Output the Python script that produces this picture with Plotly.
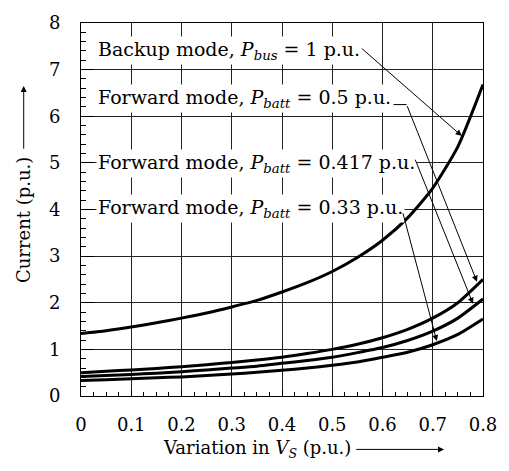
import plotly.graph_objects as go

# Supply-voltage variation (p.u.)
variation = [0.00, 0.05, 0.10, 0.15, 0.20, 0.25, 0.30, 0.35, 0.40,
             0.45, 0.50, 0.55, 0.60, 0.65, 0.70, 0.75, 0.80]

# Current (p.u.) for each operating mode
backup_pbus_1 = [1.34, 1.40, 1.48, 1.57, 1.67, 1.78, 1.91, 2.05, 2.23,
                 2.43, 2.67, 2.97, 3.34, 3.82, 4.46, 5.35, 6.68]
forward_pbatt_050 = [0.50, 0.53, 0.56, 0.59, 0.63, 0.67, 0.72, 0.77, 0.83,
                     0.91, 1.00, 1.11, 1.25, 1.43, 1.67, 2.00, 2.50]
forward_pbatt_0417 = [0.42, 0.44, 0.46, 0.49, 0.52, 0.56, 0.60, 0.64, 0.70,
                      0.76, 0.83, 0.93, 1.04, 1.19, 1.39, 1.67, 2.08]
forward_pbatt_033 = [0.33, 0.35, 0.37, 0.39, 0.41, 0.44, 0.47, 0.51, 0.55,
                     0.60, 0.66, 0.73, 0.83, 0.94, 1.10, 1.32, 1.65]

x_ticks = [0, 0.1, 0.2, 0.3, 0.4, 0.5, 0.6, 0.7, 0.8]
x_tick_text = ["0", "0.1", "0.2", "0.3", "0.4", "0.5", "0.6", "0.7", "0.8"]
y_ticks = [0, 1, 2, 3, 4, 5, 6, 7, 8]

FONT = "DejaVu Serif"
FS_TICK = 18
FS_LABEL = 19
FS_TITLE = 18

fig = go.Figure()
for series in (backup_pbus_1, forward_pbatt_050, forward_pbatt_0417, forward_pbatt_033):
    fig.add_trace(go.Scatter(
        x=variation, y=series, mode="lines",
        line=dict(color="black", width=3, shape="spline", smoothing=0.6),
        showlegend=False, hoverinfo="skip",
    ))

axis_common = dict(
    showline=True, linecolor="black", linewidth=1, mirror=True,
    showgrid=True, gridcolor="#222222", gridwidth=1,
    zeroline=False, ticks="inside", tickcolor="black",
    ticklabeloverflow="allow",
    tickfont=dict(family=FONT, size=FS_TICK, color="black"),
)

fig.update_xaxes(
    range=[0, 0.8], tickvals=x_ticks, ticktext=x_tick_text,
    ticklen=6, ticklabelstandoff=12,
    minor=dict(dtick=0.025, ticks="inside", ticklen=4, tickcolor="black", showgrid=False),
    **axis_common,
)
fig.update_yaxes(
    range=[0, 8], tickvals=y_ticks,
    ticklen=13, ticklabelstandoff=16,
    minor=dict(dtick=0.2, ticks="inside", ticklen=5, tickcolor="black", showgrid=False),
    **axis_common,
)

labels = [
    ("Backup mode, <i>P<sub>bus</sub></i> = 1 p.u.", 7.42),
    ("Forward mode, <i>P<sub>batt</sub></i> = 0.5 p.u.", 6.38),
    ("Forward mode, <i>P<sub>batt</sub></i> = 0.417 p.u.", 4.98),
    ("Forward mode, <i>P<sub>batt</sub></i> = 0.33 p.u.", 4.02),
]
for text, yc in labels:
    fig.add_annotation(
        x=0.03, y=yc, xref="x", yref="y", text=text, showarrow=False,
        xanchor="left", yanchor="middle", bgcolor="white", borderpad=1,
        font=dict(family=FONT, size=FS_LABEL, color="black"),
    )

# Leader arrows from each label to its curve: (tail x, tail y, head x, head y)
leaders = [
    (0.5560, 7.48, 0.7575, 5.58),
    (0.6480, 6.25, 0.788, 2.45),
    (0.6640, 5.10, 0.780, 1.98),
    (0.6400, 3.95, 0.708, 1.18),
]
for tx, ty, hx, hy in leaders:
    fig.add_annotation(
        x=hx, y=hy, ax=tx, ay=ty, xref="x", yref="y", axref="x", ayref="y",
        text="", showarrow=True, arrowhead=2, arrowsize=1.2, arrowwidth=1,
        arrowcolor="black",
    )
# short horizontal stub after the 0.5 p.u. label
fig.add_shape(type="line", x0=0.6220, y0=6.25, x1=0.6480, y1=6.25,
              xref="x", yref="y", line=dict(color="black", width=1))

# Axis titles with direction arrows
fig.add_annotation(
    x=-0.1425, y=0.471, xref="x domain", yref="y domain", textangle=-90,
    xanchor="center", yanchor="middle",
    text="Current (p.u.)", showarrow=False,
    font=dict(family=FONT, size=FS_TITLE, color="black"),
)
fig.add_annotation(
    x=-0.1425, y=0.831, ax=-0.1425, ay=0.659, xref="x domain", yref="y domain",
    axref="x domain", ayref="y domain", text="", showarrow=True,
    arrowhead=2, arrowsize=1.2, arrowwidth=1, arrowcolor="black",
)
fig.add_annotation(
    x=0.437, y=-0.1432, xref="x domain", yref="y domain",
    xanchor="center", yanchor="middle",
    text="Variation in <i>V<sub>S</sub></i> (p.u.)", showarrow=False,
    font=dict(family=FONT, size=FS_TITLE, color="black"),
)
fig.add_annotation(
    x=0.903, y=-0.1432, ax=0.681, ay=-0.1432, xref="x domain", yref="y domain",
    axref="x domain", ayref="y domain", text="", showarrow=True,
    arrowhead=2, arrowsize=1.2, arrowwidth=1, arrowcolor="black",
)

fig.update_layout(
    width=509, height=471,
    margin=dict(l=81, r=14, t=12, b=75),
    paper_bgcolor="white", plot_bgcolor="white",
    font=dict(family=FONT, size=FS_TICK, color="black"),
)

fig.write_html("out.html")
